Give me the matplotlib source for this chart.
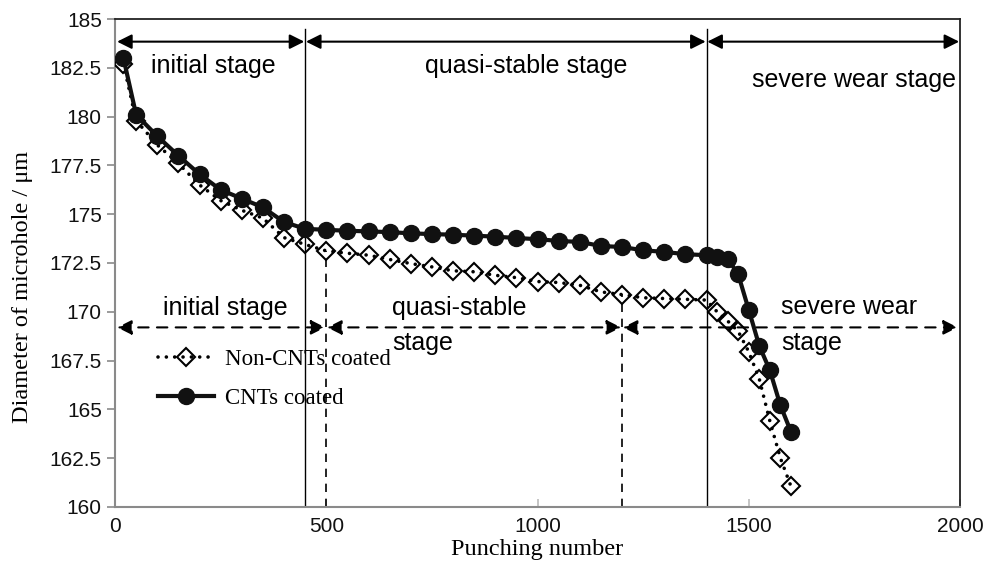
import matplotlib
matplotlib.use("Agg")
import matplotlib.pyplot as plt

# punching number (x) and microhole diameter (um) for both tools
punches = [20, 50, 100, 150, 200, 250, 300, 350, 400, 450, 500, 550, 600,
           650, 700, 750, 800, 850, 900, 950, 1000, 1050, 1100, 1150, 1200,
           1250, 1300, 1350, 1400, 1425, 1450, 1475, 1500, 1525, 1550, 1575,
           1600]
non_cnt = [182.7, 179.8, 178.55, 177.6, 176.5, 175.7, 175.2, 174.8, 173.8,
           173.45, 173.12, 173.0, 172.9, 172.68, 172.47, 172.3, 172.1, 172.05,
           171.87, 171.75, 171.55, 171.5, 171.36, 171.02, 170.88, 170.72,
           170.68, 170.64, 170.6, 170.0, 169.53, 169.0, 167.95, 166.55, 164.4,
           162.5, 161.05]
cnt = [183.0, 180.1, 179.0, 178.0, 177.05, 176.25, 175.8, 175.35, 174.6,
       174.25, 174.2, 174.15, 174.12, 174.08, 174.02, 173.98, 173.95, 173.9,
       173.85, 173.78, 173.72, 173.63, 173.58, 173.37, 173.32, 173.15, 173.07,
       172.95, 172.9, 172.81, 172.73, 171.92, 170.1, 168.25, 167.0, 165.2,
       163.85]

series_labels = ["Non-CNTs coated", "CNTs coated"]

# stage boundaries: CNTs coated (solid) and non-coated (dashed)
cnt_bounds = [0, 450, 1400, 2000]
non_bounds = [0, 500, 1200, 2000]
cnt_arrow_y = 183.84
non_arrow_y = 169.2

sans = "Liberation Sans"
serif = "Liberation Serif"

fig = plt.figure(figsize=(10, 5.69), dpi=100)
ax = fig.add_axes([0.115, 0.109, 0.845, 0.8576])

ax.plot(punches, non_cnt, linestyle=(0, (0.01, 2.3)), color="black", lw=2.6,
        marker="D", ms=8.8, mfc="none", mec="black", mew=1.5,
        dash_capstyle="round", label=series_labels[0], zorder=4)
ax.plot(punches, cnt, linestyle="-", color="#111111", lw=3,
        marker="o", ms=11.5, mfc="#111111", mec="#111111",
        label=series_labels[1], zorder=5)

# stage dividers
for b in cnt_bounds[1:-1]:
    ax.plot([b, b], [160, 184.5], color="black", lw=1, zorder=2)
ax.plot([non_bounds[1]] * 2, [160, 173.1], color="black", lw=1.2,
        linestyle=(0, (5, 4)), zorder=2)
ax.plot([non_bounds[2]] * 2, [160, 170.9], color="black", lw=1.2,
        linestyle=(0, (5, 4)), zorder=2)

# stage arrows
for a, b in zip(cnt_bounds[:-1], cnt_bounds[1:]):
    ax.annotate("", xy=(b - 2, cnt_arrow_y), xytext=(a + 2 if a else 5, cnt_arrow_y),
                arrowprops=dict(arrowstyle="<|-|>", color="black", lw=1.5,
                                shrinkA=0, shrinkB=0, mutation_scale=22))
for a, b in zip(non_bounds[:-1], non_bounds[1:]):
    ax.annotate("", xy=(b - 2 if b < 2000 else 1995, non_arrow_y),
                xytext=(a + 2 if a else 5, non_arrow_y),
                arrowprops=dict(arrowstyle="<|-|>", color="black", lw=1.5,
                                linestyle=(0, (5, 4)), shrinkA=0, shrinkB=0,
                                mutation_scale=22))

fs = 18
ax.text(232, 182.25, "initial stage", family=sans, fontsize=fs, ha="center", va="baseline")
ax.text(973, 182.25, "quasi-stable stage", family=sans, fontsize=fs, ha="center", va="baseline")
ax.text(1750, 181.5, "severe wear stage", family=sans, fontsize=fs, ha="center", va="baseline")
ax.text(260, 169.82, "initial stage", family=sans, fontsize=fs, ha="center", va="baseline")
ax.text(655, 169.82, "quasi-stable", family=sans, fontsize=fs, ha="left", va="baseline")
ax.text(657, 168.06, "stage", family=sans, fontsize=fs, ha="left", va="baseline")
ax.text(1576, 169.87, "severe wear", family=sans, fontsize=fs, ha="left", va="baseline")
ax.text(1576, 168.06, "stage", family=sans, fontsize=fs, ha="left", va="baseline")

ax.set_xlim(0, 2000)
ax.set_ylim(160, 185)
ax.set_xticks([0, 500, 1000, 1500, 2000])
ax.set_yticks([160, 162.5, 165, 167.5, 170, 172.5, 175, 177.5, 180, 182.5, 185])
ax.set_yticklabels(["160", "162.5", "165", "167.5", "170", "172.5", "175",
                    "177.5", "180", "182.5", "185"])

for side in ["left", "bottom"]:
    ax.spines[side].set_color("#8a8a8a")
    ax.spines[side].set_linewidth(1.5)
for side in ["top", "right"]:
    ax.spines[side].set_color("#222222")
    ax.spines[side].set_linewidth(1.3)

ax.tick_params(axis="y", direction="out", length=5.5, width=1.2, color="#8a8a8a",
               pad=4, labelsize=15, labelcolor="#111111")
ax.tick_params(axis="x", direction="in", length=5.5, width=1.2, color="#bbbbbb",
               pad=7, labelsize=15, labelcolor="#111111")
for lab in ax.get_xticklabels() + ax.get_yticklabels():
    lab.set_family(sans)

ax.set_xlabel("Punching number", family=serif, fontsize=17.5)
ax.set_ylabel("Diameter of microhole / μm", family=serif, fontsize=17.5)
ax.xaxis.set_label_coords(0.5, -0.088)
ax.xaxis.label.set_va("center")
ax.yaxis.set_label_coords(-0.110, 0.45)
ax.yaxis.label.set_va("center")

ax.legend(loc="center left", bbox_to_anchor=(0.051, 0.262), frameon=False,
          prop={"family": serif, "size": 16.5}, borderpad=0, borderaxespad=0,
          handlelength=2.45, handletextpad=0.45, labelspacing=0.8)

fig.savefig("out.png", dpi=100)
